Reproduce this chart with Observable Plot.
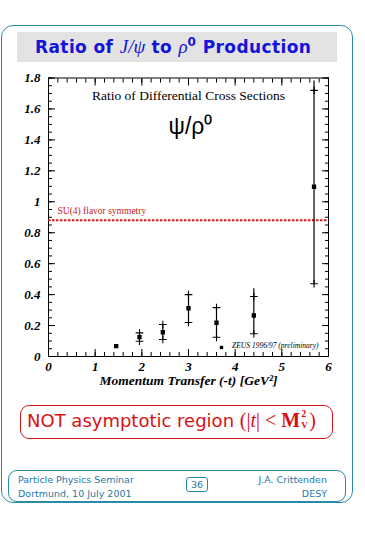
<!DOCTYPE html>
<html>
<head>
<meta charset="utf-8">
<script src="https://cdn.jsdelivr.net/npm/d3@7"></script>
<script src="https://cdn.jsdelivr.net/npm/@observablehq/plot@0.6"></script>
<style>
  html, body { margin: 0; padding: 0; background: #fff; }
  #page { position: relative; width: 365px; height: 535px; overflow: hidden; }
  .abs { position: absolute; }
  #outer { left: 1px; top: 25px; width: 350px; height: 476px; border: 1.5px solid #2a8aaa; border-radius: 12px; }
  #titlebar { left: 17px; top: 32px; width: 320px; height: 30px; background: #e3e3e3; }
  #title { left: 35px; top: 35px; font: bold 17px "DejaVu Sans", sans-serif; letter-spacing: 0.4px; color: #1414d8; white-space: nowrap; }
  #title i { font-family: "Liberation Serif", serif; font-weight: normal; font-size: 19px; letter-spacing: 0; }
  #chart { left: 0; top: 0; }
  #redbox { left: 20px; top: 405px; width: 311px; height: 32px; border: 1.5px solid #d81818; border-radius: 9px; }
  #redtext { left: 27px; top: 409px; font: 18px "DejaVu Sans", sans-serif; color: #d81010; white-space: nowrap; }
  #redtext .s { font-family: "Liberation Serif", serif; font-size: 20px; }
  #foot { left: 8px; top: 470px; width: 336px; height: 30px; border: 1px solid #2a8aaa; border-radius: 9px; }
  .ft { font: 9.5px "DejaVu Sans", sans-serif; color: #1f78a8; white-space: nowrap; }
  #pg { left: 186px; top: 477px; width: 20px; height: 13px; border: 1px solid #2a8aaa; border-radius: 3px; text-align: center; line-height: 13px; }
  .stk { display: inline-block; position: relative; width: 9px; height: 10px; font-weight: bold; }
  .stk .up { position: absolute; left: 1px; top: -8px; line-height: 9px; height: 9px; font-size: 10px; }
  .stk .dn { position: absolute; left: 1px; top: 4px; line-height: 9px; height: 9px; font-size: 9px; }
</style>
</head>
<body>
<div id="page">
  <div id="outer" class="abs"></div>
  <div id="titlebar" class="abs"></div>
  <div id="title" class="abs">Ratio of <i>J/ψ</i> to <i>ρ</i><sup style="font-size:12px">0</sup> Production</div>
  <div id="chart" class="abs"></div>
  <div id="redbox" class="abs"></div>
  <div id="redtext" class="abs">NOT asymptotic region <span class="s">(|<i>t</i>| &lt; <b>M</b><span class="stk"><span class="up">2</span><span class="dn">V</span></span>)</span></div>
  <div id="foot" class="abs"></div>
  <div class="abs ft" style="left:18px;top:474px">Particle Physics Seminar</div>
  <div class="abs ft" style="left:18px;top:488px">Dortmund, 10 July 2001</div>
  <div id="pg" class="abs ft">36</div>
  <div class="abs ft" style="right:38px;top:474px">J.A. Crittenden</div>
  <div class="abs ft" style="right:38px;top:488px">DESY</div>
</div>
<script>
// ---- data ----
const momentumT = [1.45, 1.95, 2.45, 3.0, 3.6, 4.4, 5.69];
const ratio     = [0.067, 0.125, 0.157, 0.312, 0.218, 0.265, 1.097];
const totHigh   = [0.075, 0.153, 0.207, 0.40, 0.316, 0.438, 1.78];
const totLow    = [0.058, 0.099, 0.110, 0.22, 0.124, 0.147, 0.47];
const capHigh   = [null, 0.153, 0.207, 0.40, 0.316, 0.388, 1.72];
const capLow    = [null, 0.099, 0.110, 0.22, 0.124, 0.147, 0.47];
const su4Value  = 0.88;
const xMajor = [0, 1, 2, 3, 4, 5, 6];
const xMinor = d3.range(0, 6.0001, 0.2);
const yMajor = [0, 0.2, 0.4, 0.6, 0.8, 1, 1.2, 1.4, 1.6, 1.8];
const yMinor = d3.range(0, 1.8001, 0.05);
const xLabel = "Momentum Transfer (-t) [GeV²]";
const innerTitle = "Ratio of Differential Cross Sections";
const innerSymbol = "ψ/ρ⁰";
const su4Label = "SU(4) flavor symmetry";
const legendLabel = "ZEUS 1996/97 (preliminary)";

const pts = momentumT.map((x, i) => ({x, y: ratio[i], hi: totHigh[i], lo: totLow[i], ch: capHigh[i], cl: capLow[i]}));
const caps = pts.flatMap(d => d.ch == null ? [] : [{x: d.x, y: d.ch}, {x: d.x, y: d.cl}]);

const serif = "Liberation Serif, Times New Roman, serif";
const tickLab = {fontWeight: "bold", fontStyle: "italic", fontSize: 13};
const fmt = d3.format("~g");

const chart = Plot.plot({
  width: 365, height: 400,
  marginTop: 77.5, marginBottom: 44, marginLeft: 48, marginRight: 37,
  style: {fontFamily: serif, background: "transparent", color: "#000"},
  x: {domain: [0, 6]},
  y: {domain: [0, 1.8]},
  marks: [
    Plot.frame({stroke: "#000", strokeWidth: 1}),
    // inward ticks on all four sides
    Plot.axisX({anchor: "bottom", ticks: xMajor, tickSize: -7, tickFormat: () => "", label: null}),
    Plot.axisX({anchor: "bottom", ticks: xMinor, tickSize: -4, tickFormat: () => "", label: null}),
    Plot.axisX({anchor: "top", ticks: xMajor, tickSize: -7, tickFormat: () => "", label: null}),
    Plot.axisX({anchor: "top", ticks: xMinor, tickSize: -4, tickFormat: () => "", label: null}),
    Plot.axisY({anchor: "left", ticks: yMajor, tickSize: -7, tickFormat: () => "", label: null}),
    Plot.axisY({anchor: "left", ticks: yMinor, tickSize: -4, tickFormat: () => "", label: null}),
    Plot.axisY({anchor: "right", ticks: yMajor, tickSize: -7, tickFormat: () => "", label: null}),
    Plot.axisY({anchor: "right", ticks: yMinor, tickSize: -4, tickFormat: () => "", label: null}),
    // tick labels
    Plot.axisX({anchor: "bottom", ticks: xMajor, tickSize: 0, tickPadding: 5, label: null, tickFormat: fmt, ...tickLab}),
    Plot.axisY({anchor: "left", ticks: yMajor, tickSize: 0, tickPadding: 8, label: null, tickFormat: fmt, ...tickLab}),
    // x axis title
    Plot.text([xLabel], {frameAnchor: "bottom", dy: 28, text: d => d, fontSize: 13.5, fontWeight: "bold", fontStyle: "italic"}),
    // SU(4) line
    Plot.ruleY([su4Value], {stroke: "#d01818", strokeWidth: 2, strokeDasharray: "2.5,1.5"}),
    Plot.text([su4Value], {y: d => d, frameAnchor: "left", dx: 9, dy: -9, text: () => su4Label, textAnchor: "start", fill: "#d01818", fontSize: 9.5}),
    // inner annotations
    Plot.text([innerTitle], {frameAnchor: "top", dy: 12, text: d => d, fontSize: 13.5}),
    Plot.text([innerSymbol], {frameAnchor: "top", dy: 40, dx: 2, text: d => d, fontSize: 23, fontFamily: "Liberation Sans, Arial, sans-serif"}),
    // data: error bars, caps, points
    Plot.ruleX(pts, {x: "x", y1: "lo", y2: "hi", stroke: "#000", strokeWidth: 1.2}),
    Plot.dot(caps, {x: "x", y: "y", symbol: "plus", r: 2.6, stroke: "#000", strokeWidth: 1.1}),
    Plot.dot(pts, {x: "x", y: "y", symbol: "square", r: 1.6, fill: "#000", stroke: "#000"}),
    // legend
    Plot.dot([legendLabel], {frameAnchor: "bottom-right", dx: -107, dy: -9, symbol: "square", r: 1.9, fill: "#000"}),
    Plot.text([legendLabel], {frameAnchor: "bottom-right", dx: -10, dy: -9, text: d => d, textAnchor: "end", fontSize: 7.5, fontStyle: "italic"})
  ]
});
document.getElementById("chart").appendChild(chart);
</script>
</body>
</html>
